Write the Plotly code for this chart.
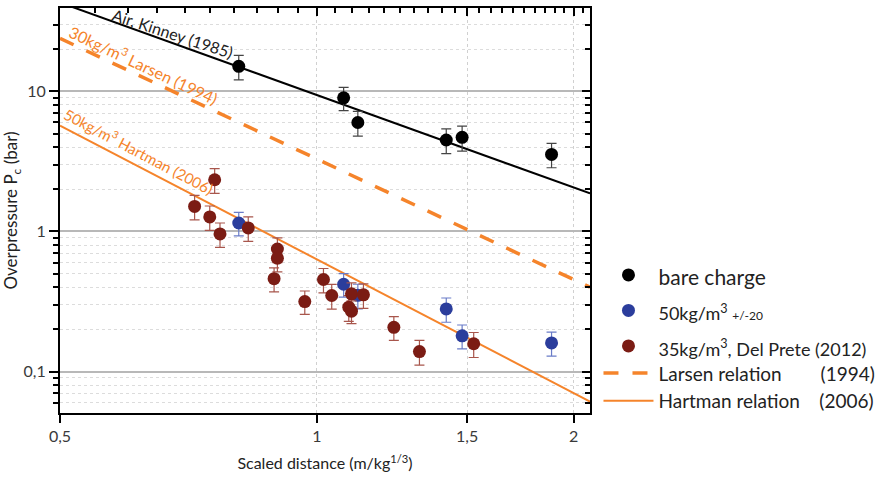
import math
import plotly.graph_objects as go

# ---------------- data ----------------
bare_x = [0.81, 1.075, 1.117, 1.418, 1.48, 1.884]
bare_y = [15.1, 9.0, 6.0, 4.5, 4.7, 3.55]
bare_err = [3.0, 1.7, 1.2, 0.9, 0.95, 0.7]

blue_x = [0.81, 1.075, 1.117, 1.418, 1.48, 1.884]
blue_y = [1.15, 0.42, 0.35, 0.28, 0.18, 0.16]
blue_err = [0.22, 0.08, 0.07, 0.055, 0.035, 0.031]

red_x = [0.759, 0.719, 0.749, 0.770, 0.831, 0.899, 0.899, 0.891, 0.968,
         1.018, 1.041, 1.098, 1.090, 1.098, 1.134, 1.231, 1.319, 1.527]
red_y = [2.34, 1.51, 1.27, 0.96, 1.06, 0.75, 0.645, 0.46, 0.316,
         0.454, 0.349, 0.359, 0.288, 0.27, 0.353, 0.207, 0.139, 0.158]
red_err = [0.47, 0.3, 0.25, 0.19, 0.21, 0.15, 0.13, 0.09, 0.06,
           0.09, 0.07, 0.07, 0.06, 0.05, 0.07, 0.04, 0.028, 0.032]

kinney_x = [0.5, 2.09]
kinney_y = [43.1, 1.87]
larsen_x = [0.5, 2.09]
larsen_y = [23.9, 0.40]
hartman_x = [0.5, 2.09]
hartman_y = [5.7, 0.061]

x_tick_vals = [0.5, 1, 1.5, 2]
x_tick_text = ["0,5", "1", "1,5", "2"]
y_tick_vals = [0.1, 1, 10]
y_tick_text = ["0,1", "1", "10"]

X_RANGE = [0.5, 2.09]
Y_RANGE = [0.0506, 39.4]

# ---------------- style ----------------
FONT = "Lato"
TXT = "#3a3a3a"
ORANGE = "#f5842b"
BLUE = "#2b3d9c"
RED = "#7b1c14"

y_minor = [m * d for d in (0.01, 0.1, 1, 10) for m in range(2, 10)]
y_minor = [v for v in y_minor if Y_RANGE[0] <= v <= Y_RANGE[1]]
x_minor_top = [round(0.5 + 0.05 * i, 2) for i in range(0, 32)]
x_minor_top = [v for v in x_minor_top if v <= X_RANGE[1]]

fig = go.Figure()

# reference lines
fig.add_trace(go.Scatter(x=kinney_x, y=kinney_y, mode="lines",
                         line=dict(color="black", width=2), showlegend=False))
fig.add_trace(go.Scatter(x=larsen_x, y=larsen_y, mode="lines",
                         line=dict(color=ORANGE, width=3.5, dash="15px,14px"),
                         name="Larsen relation\u00a0\u00a0\u00a0\u00a0\u00a0\u00a0\u00a0\u00a0(1994)",
                         legend="legend2", legendrank=4))
fig.add_trace(go.Scatter(x=hartman_x, y=hartman_y, mode="lines",
                         line=dict(color=ORANGE, width=2),
                         name="Hartman relation\u00a0\u00a0\u00a0\u00a0(2006)",
                         legend="legend2", legendrank=5))

# data points
fig.add_trace(go.Scatter(
    x=bare_x, y=bare_y, mode="markers",
    marker=dict(color="black", size=13),
    error_y=dict(type="data", array=bare_err, color="#444", thickness=1.2, width=5),
    name="<span style='font-size:21px'>bare charge</span>", legendrank=1))
fig.add_trace(go.Scatter(
    x=blue_x, y=blue_y, mode="markers",
    marker=dict(color=BLUE, size=13),
    error_y=dict(type="data", array=blue_err, color="#6a7cc8", thickness=1.2, width=5),
    name="<span style='font-size:18px'>50kg/m<sup>3</sup> </span><span style='font-size:12px'>+/-20</span>",
    legendrank=2))
fig.add_trace(go.Scatter(
    x=red_x, y=red_y, mode="markers",
    marker=dict(color=RED, size=13),
    error_y=dict(type="data", array=red_err, color="#a8564c", thickness=1.2, width=5),
    name="<span style='font-size:18px'>35kg/m<sup>3</sup>, Del Prete (2012)</span>",
    legendrank=3))

# empty trace so the mirrored top/right frame axes are drawn
fig.add_trace(go.Scatter(x=[], y=[], xaxis="x2", yaxis="y2", showlegend=False,
                         hoverinfo="skip"))

# line labels
def ann(x, y, text, angle, color, size=16):
    fig.add_annotation(x=math.log10(x), y=math.log10(y), xref="x", yref="y",
                       text=text, textangle=angle, showarrow=False,
                       font=dict(family=FONT, size=size, color=color))

ann(0.679, 26.0, "Air, Kinney (1985)", 18.0, "#222")
ann(0.627, 15.6, "30kg/m<sup>3</sup> Larsen (1994)", 25.2, ORANGE)
ann(0.618, 3.76, "50kg/m<sup>3</sup> Hartman (2006)", 27.7, ORANGE, 15)

xr = [math.log10(X_RANGE[0]), math.log10(X_RANGE[1])]
yr = [math.log10(Y_RANGE[0]), math.log10(Y_RANGE[1])]

fig.update_layout(
    width=877, height=480,
    margin=dict(l=60, r=287, t=8, b=67, autoexpand=False),
    paper_bgcolor="white", plot_bgcolor="white",
    font=dict(family=FONT, size=15, color=TXT),
    xaxis=dict(type="log", range=xr, tickmode="array", tickvals=x_tick_vals,
               ticktext=x_tick_text, ticks="outside", ticklen=8, tickwidth=1.5,
               tickcolor="black", showline=True, linecolor="black", linewidth=2,
               showgrid=True, gridcolor="#d0d0d0", griddash="dot", gridwidth=1,
               zeroline=False, tickfont=dict(size=16, color=TXT),
               title=dict(text="Scaled distance (m/kg<sup>1/3</sup>)",
                          font=dict(size=16, color="#222"), standoff=14)),
    yaxis=dict(type="log", range=yr, tickmode="array", tickvals=y_tick_vals,
               ticktext=y_tick_text, ticks="outside", ticklen=9, tickwidth=1.5,
               tickcolor="black", showline=True, linecolor="black", linewidth=2,
               showgrid=True, gridcolor="#b8b8b8", gridwidth=1.5, zeroline=False,
               tickfont=dict(size=16, color=TXT),
               minor=dict(tickvals=y_minor, ticks="outside", ticklen=5,
                          tickwidth=1.5, tickcolor="black", showgrid=True,
                          gridcolor="#dcdcdc", griddash="dot", gridwidth=1),
               title=dict(text="Overpressure P<sub>c</sub> (bar)",
                          font=dict(size=17, color="#222"), standoff=6)),
    xaxis2=dict(type="log", range=xr, overlaying="x", side="top", anchor="y2",
                tickmode="array", tickvals=[1, 1.5, 2], ticks="inside", ticklen=8,
                tickwidth=1.5, tickcolor="black", showticklabels=False,
                showline=True, linecolor="black", linewidth=2, showgrid=False,
                zeroline=False,
                minor=dict(tickvals=x_minor_top, ticks="inside", ticklen=5,
                           tickwidth=1.5, tickcolor="black", showgrid=False)),
    yaxis2=dict(type="log", range=yr, overlaying="y", side="right", anchor="x2",
                tickmode="array", tickvals=y_tick_vals, ticks="inside", ticklen=8,
                tickwidth=1.5, tickcolor="black", showticklabels=False,
                showline=True, linecolor="black", linewidth=2, showgrid=False,
                zeroline=False,
                minor=dict(tickvals=y_minor, ticks="inside", ticklen=5,
                           tickwidth=1.5, tickcolor="black", showgrid=False)),
    legend=dict(x=1.016, y=0.397, xanchor="left", yanchor="top", itemwidth=50,
                font=dict(family=FONT, size=25, color="#222"),
                bgcolor="rgba(0,0,0,0)", traceorder="normal"),
    legend2=dict(x=1.016, y=0.145, xanchor="left", yanchor="top", itemwidth=50,
                 font=dict(family=FONT, size=19, color="#222"),
                 bgcolor="rgba(0,0,0,0)"),
)

fig.write_html("out.html")
